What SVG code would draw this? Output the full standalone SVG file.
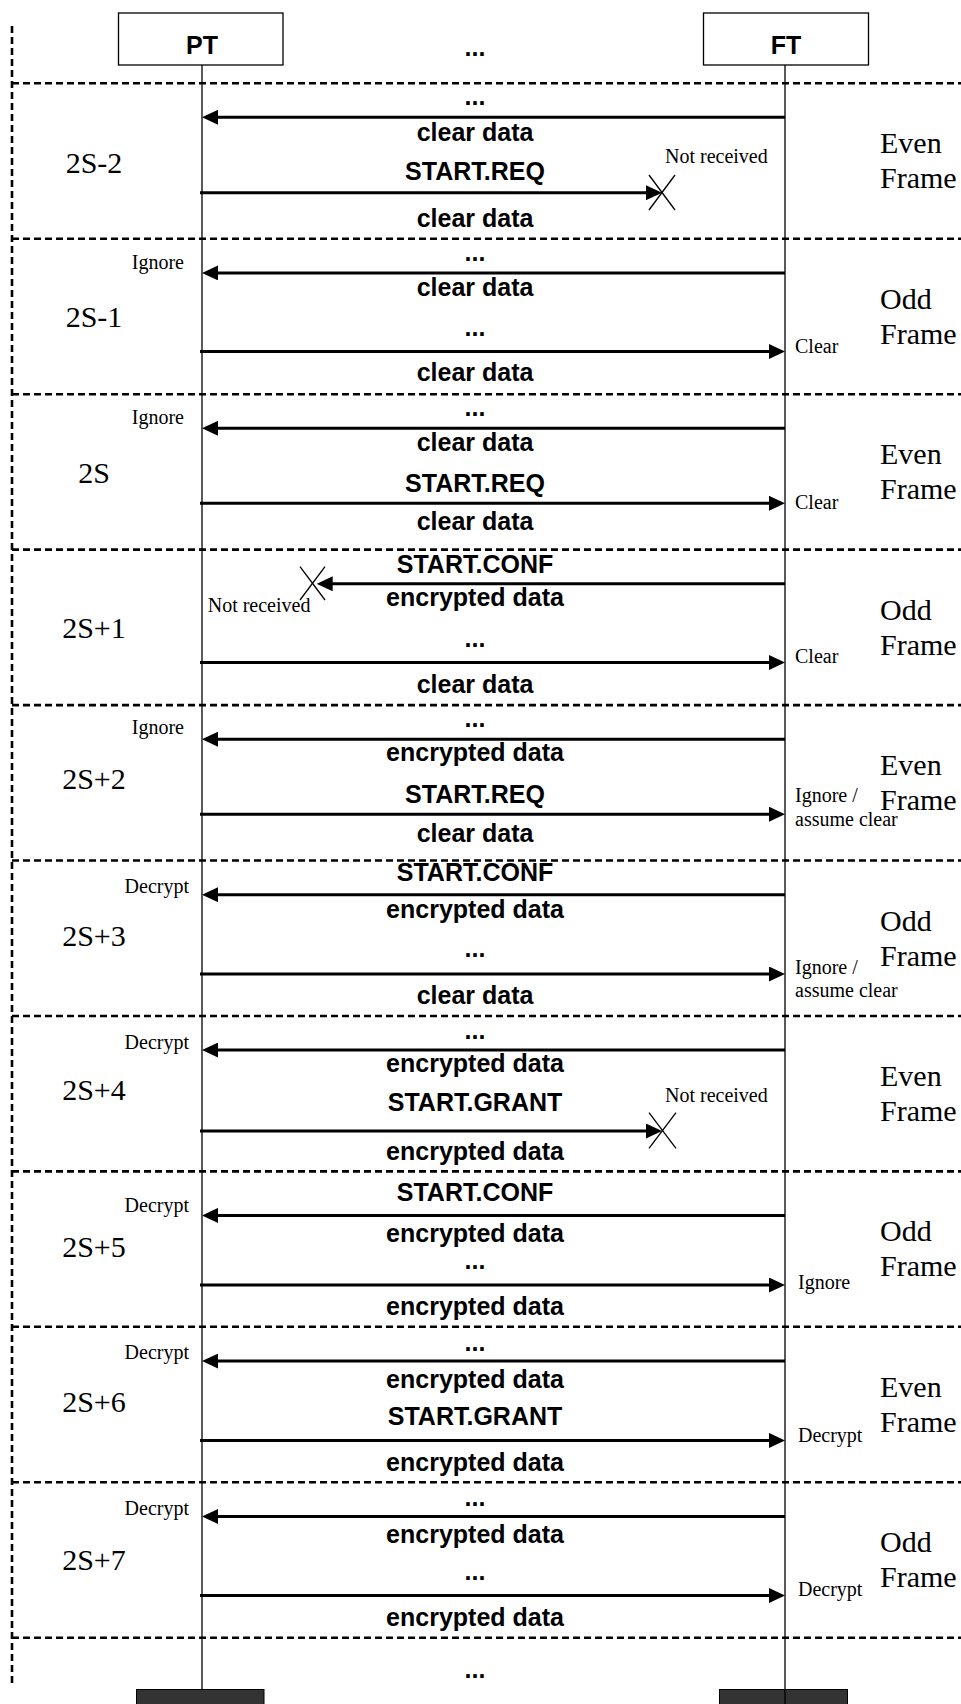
<svg xmlns="http://www.w3.org/2000/svg" width="961" height="1704" viewBox="0 0 961 1704">
<defs>
<marker id="ah" markerUnits="userSpaceOnUse" markerWidth="16" markerHeight="15" refX="12" refY="7.5" orient="auto">
<path d="M0,0 L16,7.5 L0,15 z" fill="#000"/>
</marker>
<style>
.lbl{font-family:"Liberation Sans",Arial,sans-serif;font-weight:bold;font-size:25px;text-anchor:middle;fill:#000}
.num{font-family:"Liberation Serif","Times New Roman",serif;font-size:30px;text-anchor:middle;fill:#000}
.fr{font-family:"Liberation Serif","Times New Roman",serif;font-size:30px;fill:#000}
.sm{font-family:"Liberation Serif","Times New Roman",serif;font-size:20px;fill:#000}
.smr{font-family:"Liberation Serif","Times New Roman",serif;font-size:20px;fill:#000;text-anchor:end}
.dash{stroke:#000;stroke-width:2.6;stroke-dasharray:7 4;fill:none}
.life{stroke:#000;stroke-width:1.3;fill:none}
.msg{stroke:#000;stroke-width:3;fill:none;marker-end:url(#ah)}
.x{stroke:#000;stroke-width:1.3}
.box{fill:#fff;stroke:#000;stroke-width:1.3}
.dark{fill:#333;stroke:#000;stroke-width:1}
</style>
</defs>
<rect width="961" height="1704" fill="#fff"/>

<g id="frame-lines">
<line class="dash" x1="12" y1="26" x2="12" y2="1684"/>
<line class="dash" x1="12" y1="83.3" x2="961" y2="83.3"/>
<line class="dash" x1="12" y1="238.7" x2="961" y2="238.7"/>
<line class="dash" x1="12" y1="394.2" x2="961" y2="394.2"/>
<line class="dash" x1="12" y1="549.6" x2="961" y2="549.6"/>
<line class="dash" x1="12" y1="705.1" x2="961" y2="705.1"/>
<line class="dash" x1="12" y1="860.5" x2="961" y2="860.5"/>
<line class="dash" x1="12" y1="1016" x2="961" y2="1016"/>
<line class="dash" x1="12" y1="1171.4" x2="961" y2="1171.4"/>
<line class="dash" x1="12" y1="1326.8" x2="961" y2="1326.8"/>
<line class="dash" x1="12" y1="1482.3" x2="961" y2="1482.3"/>
<line class="dash" x1="12" y1="1637.7" x2="961" y2="1637.7"/>
</g>

<g id="PT">
<line class="life" x1="202" y1="65" x2="202" y2="1689"/>
<rect class="box" x="118.5" y="13" width="164.5" height="52"/>
<text class="lbl" x="202" y="53.5">PT</text>
<rect class="dark" x="136.5" y="1689.5" width="127.5" height="20"/>
</g>
<g id="FT">
<rect class="box" x="703.5" y="13" width="165" height="52"/>
<text class="lbl" x="786" y="53.5">FT</text>
<rect class="dark" x="719.5" y="1689.5" width="128" height="20"/>
<line class="life" x1="785" y1="65" x2="785" y2="1704"/>
</g>
<g id="header-dots"><text class="lbl" x="475" y="56">...</text></g>

<g id="connectors">
<line class="msg" x1="785" y1="117.3" x2="206" y2="117.3"/>
<line class="msg" x1="200" y1="192.7" x2="658" y2="192.7"/>
<line class="x" x1="649" y1="175" x2="675" y2="210"/>
<line class="x" x1="675" y1="175" x2="649" y2="210"/>

<line class="msg" x1="785" y1="272.9" x2="206" y2="272.9"/>
<line class="msg" x1="200" y1="351.5" x2="781" y2="351.5"/>

<line class="msg" x1="785" y1="428.3" x2="206" y2="428.3"/>
<line class="msg" x1="200" y1="503.3" x2="781" y2="503.3"/>

<line class="msg" x1="785" y1="583.8" x2="320.7" y2="583.8"/>
<line class="x" x1="300" y1="566.7" x2="325" y2="600"/>
<line class="x" x1="325" y1="566.7" x2="300" y2="600"/>
<line class="msg" x1="200" y1="662.5" x2="781" y2="662.5"/>

<line class="msg" x1="785" y1="739.2" x2="206" y2="739.2"/>
<line class="msg" x1="200" y1="814.2" x2="781" y2="814.2"/>

<line class="msg" x1="785" y1="894.7" x2="206" y2="894.7"/>
<line class="msg" x1="200" y1="974" x2="781" y2="974"/>

<line class="msg" x1="785" y1="1050.1" x2="206" y2="1050.1"/>
<line class="msg" x1="200" y1="1131" x2="658" y2="1131"/>
<line class="x" x1="649" y1="1112.7" x2="676" y2="1148.3"/>
<line class="x" x1="676" y1="1112.7" x2="649" y2="1148.3"/>

<line class="msg" x1="785" y1="1215.4" x2="206" y2="1215.4"/>
<line class="msg" x1="200" y1="1285" x2="781" y2="1285"/>

<line class="msg" x1="785" y1="1361.1" x2="206" y2="1361.1"/>
<line class="msg" x1="200" y1="1440.4" x2="781" y2="1440.4"/>

<line class="msg" x1="785" y1="1516.5" x2="206" y2="1516.5"/>
<line class="msg" x1="200" y1="1595.5" x2="781" y2="1595.5"/>
</g>

<g id="frame-2S-2">
<text class="num" x="94" y="172.7">2S-2</text>
<text class="fr" x="880" y="153.3">Even</text>
<text class="fr" x="880" y="188.3">Frame</text>
<text class="lbl" x="475" y="105.3">...</text>
<text class="lbl" x="475" y="141">clear data</text>
<text class="lbl" x="475" y="180">START.REQ</text>
<text class="lbl" x="475" y="226.5">clear data</text>
<text class="sm" x="665" y="162.7">Not received</text>
</g>

<g id="frame-2S-1">
<text class="num" x="94" y="327">2S-1</text>
<text class="fr" x="880" y="308.7">Odd</text>
<text class="fr" x="880" y="343.7">Frame</text>
<text class="lbl" x="475" y="260.6">...</text>
<text class="lbl" x="475" y="296.1">clear data</text>
<text class="lbl" x="475" y="335.6">...</text>
<text class="lbl" x="475" y="380.9">clear data</text>
<text class="smr" x="184" y="269.3">Ignore</text>
<text class="sm" x="795" y="353">Clear</text>
</g>

<g id="frame-2S">
<text class="num" x="94" y="482.5">2S</text>
<text class="fr" x="880" y="464.2">Even</text>
<text class="fr" x="880" y="499.2">Frame</text>
<text class="lbl" x="475" y="416">...</text>
<text class="lbl" x="475" y="450.5">clear data</text>
<text class="lbl" x="475" y="491.8">START.REQ</text>
<text class="lbl" x="475" y="529.8">clear data</text>
<text class="smr" x="184" y="423.5">Ignore</text>
<text class="sm" x="795" y="508.5">Clear</text>
</g>

<g id="frame-2S+1">
<text class="num" x="94" y="638">2S+1</text>
<text class="fr" x="880" y="619.6">Odd</text>
<text class="fr" x="880" y="654.6">Frame</text>
<text class="lbl" x="475" y="573.3">START.CONF</text>
<text class="lbl" x="475" y="605.9">encrypted data</text>
<text class="lbl" x="475" y="646.5">...</text>
<text class="lbl" x="475" y="692.9">clear data</text>
<text class="sm" x="207.7" y="611.7">Not received</text>
<text class="sm" x="795" y="663.3">Clear</text>
</g>

<g id="frame-2S+2">
<text class="num" x="94" y="789.1">2S+2</text>
<text class="fr" x="880" y="775.1">Even</text>
<text class="fr" x="880" y="810.1">Frame</text>
<text class="lbl" x="475" y="726.9">...</text>
<text class="lbl" x="475" y="761.4">encrypted data</text>
<text class="lbl" x="475" y="802.7">START.REQ</text>
<text class="lbl" x="475" y="841.8">clear data</text>
<text class="smr" x="184" y="733.5">Ignore</text>
<text class="sm" x="795" y="802">Ignore /</text>
<text class="sm" x="795" y="825.5">assume clear</text>
</g>

<g id="frame-2S+3">
<text class="num" x="94" y="945.7">2S+3</text>
<text class="fr" x="880" y="930.5">Odd</text>
<text class="fr" x="880" y="965.5">Frame</text>
<text class="lbl" x="475" y="881">START.CONF</text>
<text class="lbl" x="475" y="917.9">encrypted data</text>
<text class="lbl" x="475" y="957.4">...</text>
<text class="lbl" x="475" y="1003.8">clear data</text>
<text class="smr" x="189" y="893">Decrypt</text>
<text class="sm" x="795" y="974">Ignore /</text>
<text class="sm" x="795" y="997">assume clear</text>
</g>

<g id="frame-2S+4">
<text class="num" x="94" y="1100">2S+4</text>
<text class="fr" x="880" y="1086">Even</text>
<text class="fr" x="880" y="1121">Frame</text>
<text class="lbl" x="475" y="1038.9">...</text>
<text class="lbl" x="475" y="1072.3">encrypted data</text>
<text class="lbl" x="475" y="1111.4">START.GRANT</text>
<text class="lbl" x="475" y="1160.3">encrypted data</text>
<text class="smr" x="189" y="1048.5">Decrypt</text>
<text class="sm" x="665" y="1101.7">Not received</text>
</g>

<g id="frame-2S+5">
<text class="num" x="94" y="1256.6">2S+5</text>
<text class="fr" x="880" y="1241.4">Odd</text>
<text class="fr" x="880" y="1276.4">Frame</text>
<text class="lbl" x="475" y="1200.5">START.CONF</text>
<text class="lbl" x="475" y="1241.9">encrypted data</text>
<text class="lbl" x="475" y="1269.4">...</text>
<text class="lbl" x="475" y="1314.7">encrypted data</text>
<text class="smr" x="189" y="1211.6">Decrypt</text>
<text class="sm" x="798" y="1289">Ignore</text>
</g>

<g id="frame-2S+6">
<text class="num" x="94" y="1412">2S+6</text>
<text class="fr" x="880" y="1396.8">Even</text>
<text class="fr" x="880" y="1431.8">Frame</text>
<text class="lbl" x="475" y="1350.9">...</text>
<text class="lbl" x="475" y="1387.5">encrypted data</text>
<text class="lbl" x="475" y="1424.5">START.GRANT</text>
<text class="lbl" x="475" y="1471.2">encrypted data</text>
<text class="smr" x="189" y="1359.4">Decrypt</text>
<text class="sm" x="798" y="1442">Decrypt</text>
</g>

<g id="frame-2S+7">
<text class="num" x="94" y="1570">2S+7</text>
<text class="fr" x="880" y="1552.3">Odd</text>
<text class="fr" x="880" y="1587.3">Frame</text>
<text class="lbl" x="475" y="1506.4">...</text>
<text class="lbl" x="475" y="1543">encrypted data</text>
<text class="lbl" x="475" y="1580.3">...</text>
<text class="lbl" x="475" y="1625.6">encrypted data</text>
<text class="smr" x="189" y="1515">Decrypt</text>
<text class="sm" x="798" y="1596">Decrypt</text>
</g>

<g id="frame-more"><text class="lbl" x="475" y="1678">...</text></g>
</svg>
